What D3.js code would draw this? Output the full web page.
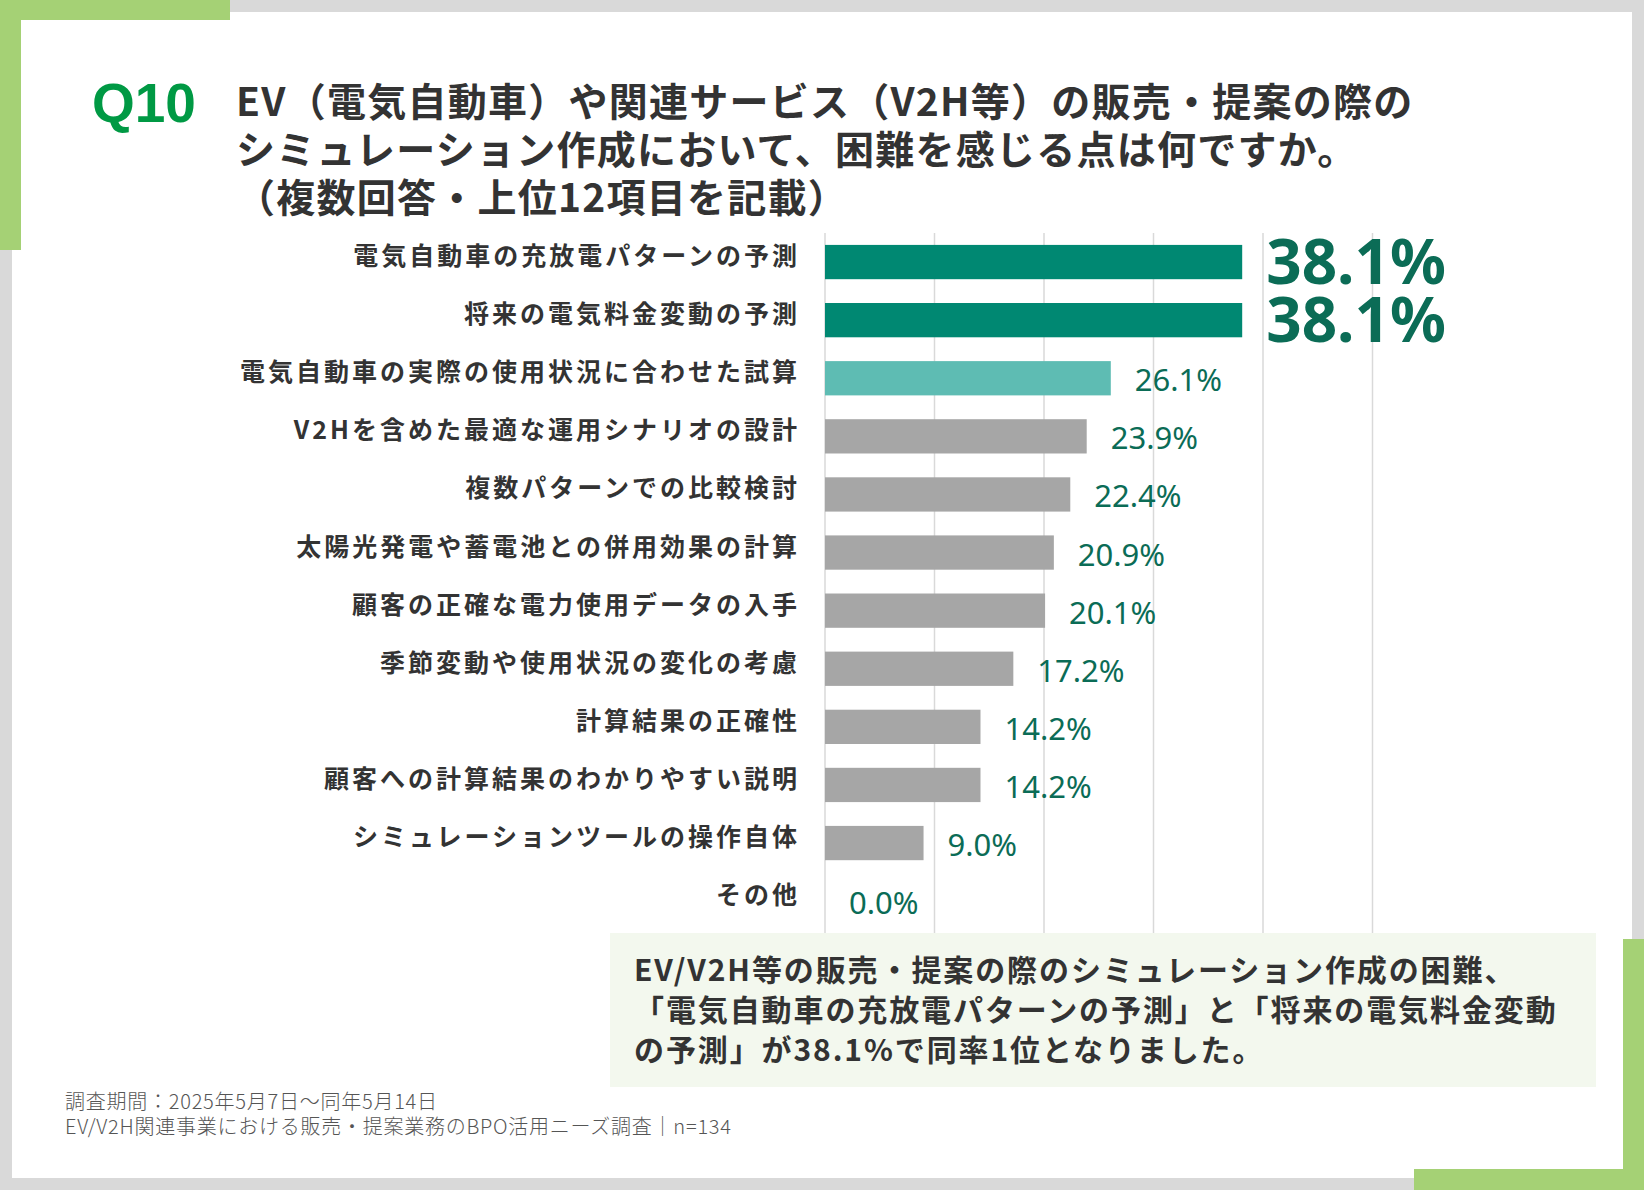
<!DOCTYPE html>
<html>
<head>
<meta charset="utf-8">
<script src="https://cdn.jsdelivr.net/npm/d3@7"></script>
<style>
  body { margin: 0; background: #fff; }
  svg { display: block; }
  text { font-family: "Noto Sans CJK JP", "Noto Sans", sans-serif; }
</style>
</head>
<body>
<div id="chart"></div>
<script>
'use strict';

// values
let categories = ['電気自動車の充放電パターンの予測', '将来の電気料金変動の予測',
	'電気自動車の実際の使用状況に合わせた試算', 'V2Hを含めた最適な運用シナリオの設計',
	'複数パターンでの比較検討', '太陽光発電や蓄電池との併用効果の計算',
	'顧客の正確な電力使用データの入手', '季節変動や使用状況の変化の考慮',
	'計算結果の正確性', '顧客への計算結果のわかりやすい説明',
	'シミュレーションツールの操作自体', 'その他'];
let values = [38.1, 38.1, 26.1, 23.9, 22.4, 20.9, 20.1, 17.2, 14.2, 14.2, 9.0, 0.0];
let gridTicks = [0, 10, 20, 30, 40, 50];

let titleLines = ['EV（電気自動車）や関連サービス（V2H等）の販売・提案の際の',
	'シミュレーション作成において、困難を感じる点は何ですか。',
	'（複数回答・上位12項目を記載）'];
let summaryLines = ['EV/V2H等の販売・提案の際のシミュレーション作成の困難、',
	'「電気自動車の充放電パターンの予測」と「将来の電気料金変動',
	'の予測」が38.1%で同率1位となりました。'];
let footLines = ['調査期間：2025年5月7日～同年5月14日',
	'EV/V2H関連事業における販売・提案業務のBPO活用ニーズ調査｜n=134'];

let W = 1644, H = 1190;
let data = categories.map((c, i) => ({cat: c, val: values[i], i: i}));

let svg = d3.select('#chart').append('svg')
	.attr('width', W)
	.attr('height', H);

// frame
svg.append('rect').attr('width', W).attr('height', H).style('fill', '#d9d9d9');
svg.append('rect').attr('x', 12).attr('y', 12).attr('width', 1620).attr('height', 1166).style('fill', '#fff');
let green = '#a5d175';
svg.append('rect').attr('x', 0).attr('y', 0).attr('width', 230).attr('height', 20).style('fill', green);
svg.append('rect').attr('x', 0).attr('y', 0).attr('width', 21).attr('height', 250).style('fill', green);
svg.append('rect').attr('x', 1623).attr('y', 939).attr('width', 21).attr('height', 251).style('fill', green);
svg.append('rect').attr('x', 1414).attr('y', 1169).attr('width', 230).attr('height', 21).style('fill', green);

// heading
svg.append('text')
	.attr('x', 92).attr('y', 122)
	.style('font-family', '"Liberation Sans", Arial, sans-serif')
	.style('font-weight', 700)
	.style('font-size', '55px')
	.style('fill', '#009944')
	.text('Q10');

svg.selectAll('text.title')
	.data(titleLines)
	.join('text')
	.classed('title', true)
	.attr('x', 236)
	.attr('y', (d, i) => 116 + i * 48)
	.style('font-weight', 700)
	.style('font-size', '39px')
	.style('letter-spacing', '1.25px')
	.style('fill', '#333')
	.text(d => d);

// chart
let x = d3.scaleLinear().domain([0, 50]).range([825, 1372.5]);
let y = d3.scaleBand().domain(categories).range([233, 233 + 12 * 58.1]).paddingInner(0.41).paddingOuter(0.205);

svg.selectAll('line.grid')
	.data(gridTicks)
	.join('line')
	.classed('grid', true)
	.attr('x1', d => x(d)).attr('x2', d => x(d))
	.attr('y1', 233).attr('y2', 933)
	.style('stroke', '#d9d9d9')
	.style('stroke-width', 1.5);

let barColor = i => i < 2 ? '#008872' : (i === 2 ? '#5ebcb3' : '#a6a6a6');

svg.selectAll('rect.bar')
	.data(data, d => d.cat)
	.join('rect')
	.classed('bar', true)
	.attr('x', x(0))
	.attr('y', d => y(d.cat))
	.attr('width', d => x(d.val) - x(0))
	.attr('height', y.bandwidth())
	.style('fill', d => barColor(d.i));

let labelLs = 3.0;
svg.selectAll('text.cat')
	.data(data)
	.join('text')
	.classed('cat', true)
	.attr('x', 797 + labelLs)
	.attr('y', d => y(d.cat) + y.bandwidth() / 2 + 3)
	.attr('text-anchor', 'end')
	.style('font-weight', 700)
	.style('font-size', '25px')
	.style('letter-spacing', labelLs + 'px')
	.style('fill', '#333')
	.text(d => d.cat);

svg.selectAll('text.val')
	.data(data)
	.join('text')
	.classed('val', true)
	.attr('x', d => x(d.val) + 24)
	.attr('y', d => y(d.cat) + y.bandwidth() / 2 + (d.i < 2 ? 22 : 13))
	.style('font-family', '"Noto Sans", "Open Sans", sans-serif')
	.style('font-weight', d => d.i < 2 ? 700 : 400)
	.style('font-size', d => d.i < 2 ? '62px' : '31px')
	.style('fill', '#0b6c56')
	.text(d => d.val.toFixed(1) + '%');

// summary box
svg.append('rect')
	.attr('x', 610).attr('y', 933)
	.attr('width', 986).attr('height', 154)
	.style('fill', '#f3f8ee');

svg.selectAll('text.summary')
	.data(summaryLines)
	.join('text')
	.classed('summary', true)
	.attr('x', 634)
	.attr('y', (d, i) => 981 + i * 40)
	.style('font-weight', 700)
	.style('font-size', '30px')
	.style('letter-spacing', '1.9px')
	.style('fill', '#333')
	.text(d => d);

// footnote
svg.selectAll('text.foot')
	.data(footLines)
	.join('text')
	.classed('foot', true)
	.attr('x', 65)
	.attr('y', (d, i) => 1109 + i * 25)
	.style('font-weight', 300)
	.style('font-size', '20px')
	.style('letter-spacing', '0.75px')
	.style('fill', '#555')
	.text(d => d);
</script>
</body>
</html>
